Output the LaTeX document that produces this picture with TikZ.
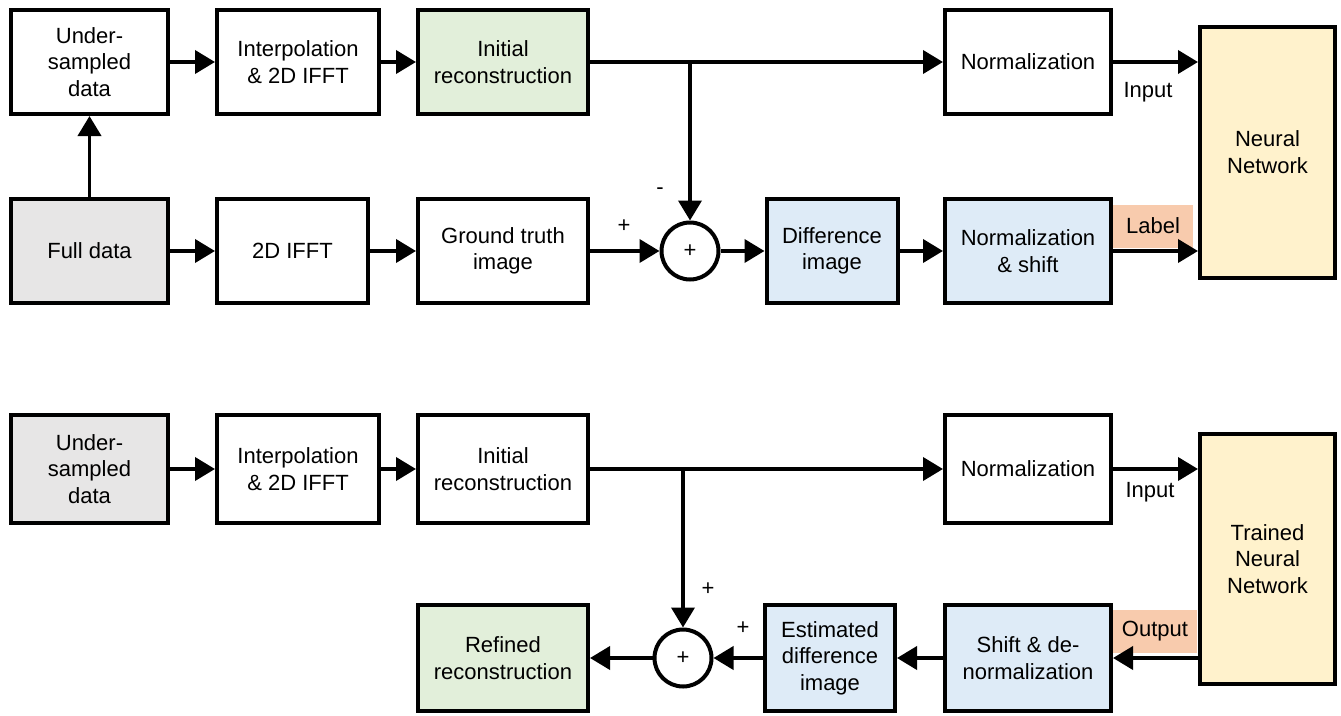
\documentclass[tikz,border=0pt]{standalone}
\usepackage{fontspec}
\setsansfont{Liberation Sans}
\usetikzlibrary{arrows.meta}
\definecolor{leaf}{HTML}{E2EFDA}
\definecolor{stone}{HTML}{E7E6E6}
\definecolor{sky}{HTML}{DEEBF7}
\definecolor{cream}{HTML}{FFF2CC}
\definecolor{peach}{HTML}{F8CBAD}

\begin{document}
\begin{tikzpicture}[x=1pt,y=-1pt,
  font=\sffamily\fontsize{22}{26.5}\selectfont,
  box/.style={draw,line width=4pt,minimum height=104pt,align=center,inner sep=2pt},
  sumnode/.style={draw,circle,line width=4pt,minimum size=57pt,inner sep=0pt},
  tag/.style={fill=peach,inner sep=0pt},
  flow/.style={line width=3.8pt,-{Triangle[length=20pt,width=23pt]}}]
  \useasboundingbox (0,0) rectangle (1341,715);

  % training
  \node[box,minimum width=157pt] (und1) at (89.5,62) {Under-\\sampled\\data};
  \node[box,minimum width=162pt] (interp1) at (298,62) {Interpolation\\\& 2D IFFT};
  \node[box,minimum width=170pt,fill=leaf] (init1) at (503,62) {Initial\\reconstruction};
  \node[box,minimum width=166pt] (norm1) at (1028,62) {Normalization};
  \node[box,minimum width=135pt,minimum height=251pt,fill=cream] (nn1) at (1267.5,152)
    {Neural\\Network};

  \node[box,minimum width=157pt,fill=stone] (full) at (89.5,251) {Full data};
  \node[box,minimum width=151pt] (ifft) at (292.5,251) {2D IFFT};
  \node[box,minimum width=170pt] (gt) at (503,251) {Ground truth\\image};
  \node[sumnode] (sum1) at (690,251) {+};
  \node[box,minimum width=131pt,fill=sky] (diff) at (832,251) {Difference\\image};
  \node[box,minimum width=166pt,fill=sky] (norms) at (1028,251) {Normalization\\\& shift};
  \node[tag,minimum width=80pt,minimum height=43pt] (lab1) at (1153,226) {Label};

  \node (in1) at (1148,92) {Input};
  \node (plus1) at (624,226) {+};
  \node (minus1) at (660,191) {-};

  \coordinate (split1) at (sum1 |- init1.east);
  \draw[flow] (und1) -- (interp1);
  \draw[flow] (interp1) -- (init1);
  \draw[flow] (init1) -- (norm1);
  \draw[flow] (split1) -- (sum1);
  \draw[flow] (norm1.east) -- (norm1 -| nn1.west);
  \draw[flow] (full) -- (und1);
  \draw[flow] (full) -- (ifft);
  \draw[flow] (ifft) -- (gt);
  \draw[flow] (gt) -- (sum1);
  \draw[flow] (sum1) -- (diff);
  \draw[flow] (diff) -- (norms);
  \draw[flow] (norms.east) -- (norms -| nn1.west);

  % testing
  \node[box,minimum width=157pt,minimum height=108pt,fill=stone] (und2) at (89.5,469)
    {Under-\\sampled\\data};
  \node[box,minimum width=162pt,minimum height=108pt] (interp2) at (298,469)
    {Interpolation\\\& 2D IFFT};
  \node[box,minimum width=170pt,minimum height=108pt] (init2) at (503,469)
    {Initial\\reconstruction};
  \node[box,minimum width=166pt,minimum height=108pt] (norm2) at (1028,469) {Normalization};
  \node[box,minimum width=135pt,minimum height=250pt,fill=cream] (nn2) at (1267.5,559)
    {Trained\\Neural\\Network};

  \node[box,minimum width=170pt,minimum height=106pt,fill=leaf] (refined) at (503,658)
    {Refined\\reconstruction};
  \node[sumnode] (sum2) at (683,658) {+};
  \node[box,minimum width=130pt,minimum height=106pt,fill=sky] (est) at (830,658)
    {Estimated\\difference\\image};
  \node[box,minimum width=166pt,minimum height=106pt,fill=sky] (shiftd) at (1028,658)
    {Shift \& de-\\normalization};
  \node[tag,minimum width=84pt,minimum height=43pt] (out2) at (1155,631) {Output};

  \node (in2) at (1150,492) {Input};
  \node (plus2) at (708,589) {+};
  \node (plus3) at (743,628) {+};

  \coordinate (split2) at (sum2 |- init2.east);
  \draw[flow] (und2) -- (interp2);
  \draw[flow] (interp2) -- (init2);
  \draw[flow] (init2) -- (norm2);
  \draw[flow] (split2) -- (sum2);
  \draw[flow] (norm2.east) -- (norm2 -| nn2.west);
  \draw[flow] (nn2.west |- shiftd) -- (shiftd);
  \draw[flow] (shiftd) -- (est);
  \draw[flow] (est) -- (sum2);
  \draw[flow] (sum2) -- (refined);
\end{tikzpicture}
\end{document}
